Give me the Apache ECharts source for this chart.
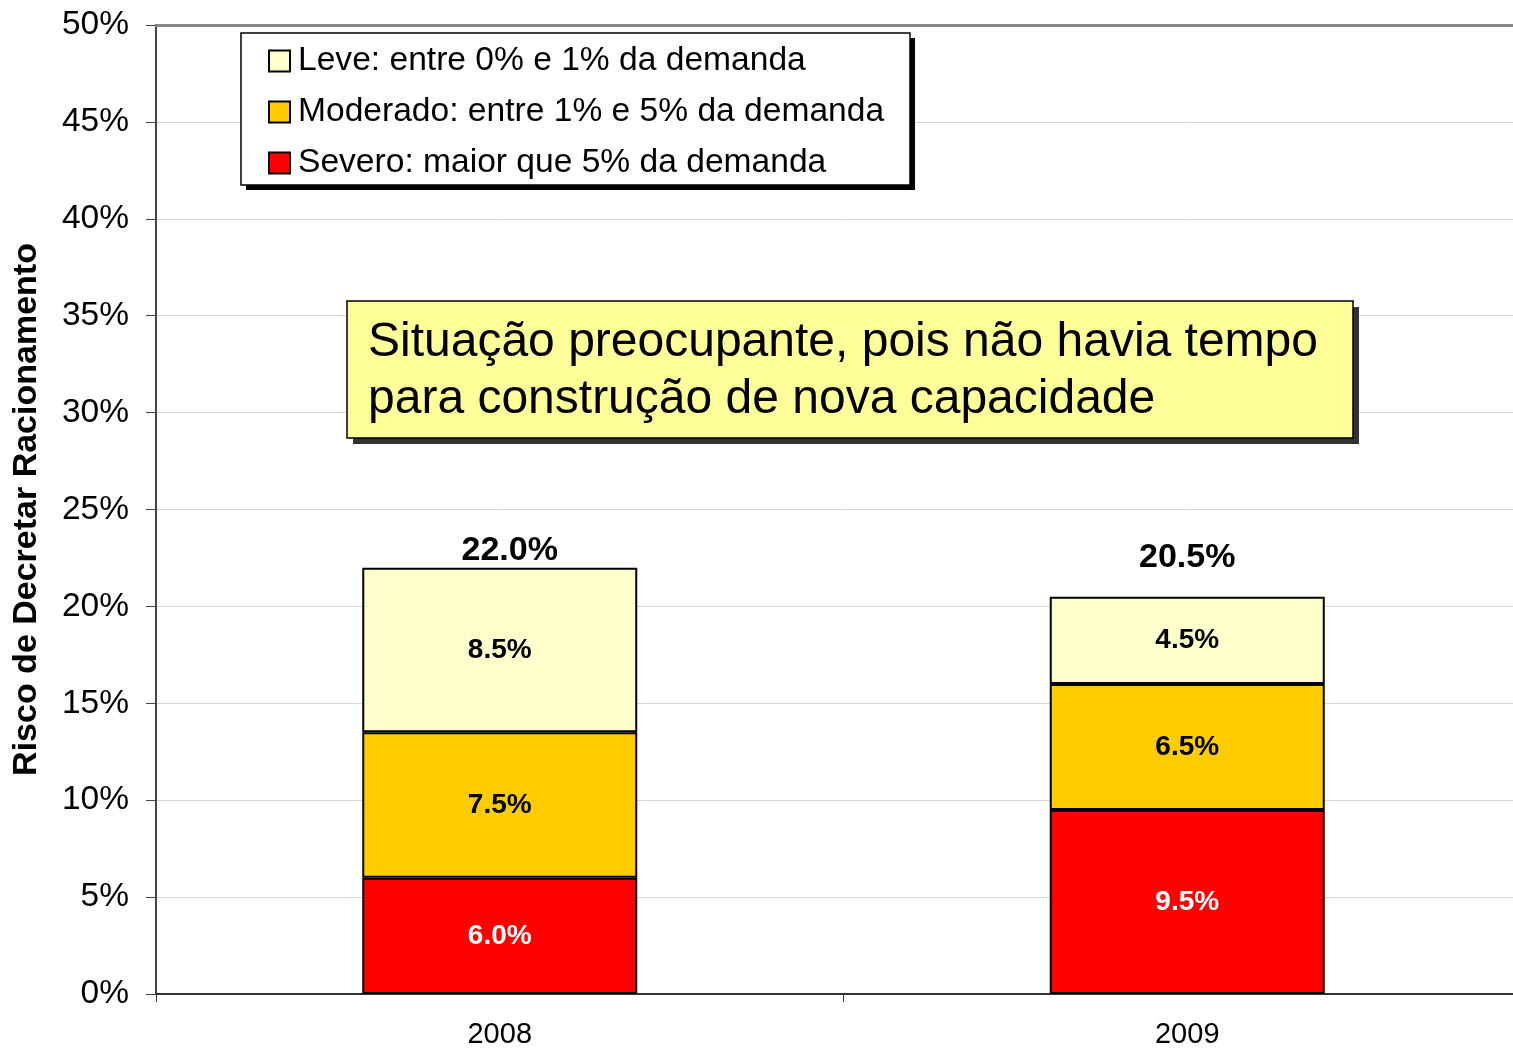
<!DOCTYPE html>
<html>
<head>
<meta charset="utf-8">
<script src="https://cdn.jsdelivr.net/npm/echarts@6/dist/echarts.min.js"></script>
<style>
 html,body{margin:0;padding:0;background:#fff;overflow:hidden;}
 /* a area do grafico passa um pouco da borda direita da imagem */
 #chart{width:1531px;height:1049px;}
</style>
</head>
<body>
<div id="chart"></div>
<script>
// dados
var anos = ['2008', '2009'];
var severo = [6.0, 9.5];
var moderado = [7.5, 6.5];
var leve = [8.5, 4.5];
var totais = [22.0, 20.5];
var nomes = ['Leve: entre 0% e 1% da demanda', 'Moderado: entre 1% e 5% da demanda', 'Severo: maior que 5% da demanda'];
var nota = 'Situação preocupante, pois não havia tempo\npara construção de nova capacidade';

var FONTE = 'Liberation Sans, Arial, sans-serif';

var myChart = echarts.init(document.getElementById('chart'));

function rotulo(cor){
  return {
    show: true,
    position: 'inside',
    color: cor,
    fontFamily: FONTE,
    fontWeight: 'bold',
    fontSize: 28,
    formatter: function(p){ return p.value.toFixed(1) + '%'; }
  };
}

var barra = {borderColor: '#000', borderWidth: 2};

var option = {
  animation: false,
  backgroundColor: '#fff',
  grid: {left: 156, top: 25, bottom: 54, right: 0},
  legend: {
    orient: 'vertical',
    left: 268,
    top: 44,
    padding: 0,
    itemWidth: 21,
    itemHeight: 21,
    itemGap: 17,
    icon: 'rect',
    data: nomes,
    textStyle: {fontFamily: FONTE, fontSize: 33.6, color: '#000', lineHeight: 33, padding: [0, 0, 0, 3]}
  },
  xAxis: [{
    type: 'category',
    data: anos,
    axisLine: {lineStyle: {color: '#333', width: 2}},
    axisTick: {show: true, length: 8, lineStyle: {color: '#333'}},
    axisLabel: {fontFamily: FONTE, fontSize: 29, color: '#000', margin: 26},
    splitLine: {show: false}
  }, {
    type: 'category',
    position: 'top',
    data: anos,
    axisLine: {lineStyle: {color: '#888', width: 3}},
    axisTick: {show: false},
    axisLabel: {show: false}
  }],
  yAxis: {
    type: 'value',
    min: 0,
    max: 50,
    interval: 5,
    name: 'Risco de Decretar Racionamento',
    nameLocation: 'middle',
    nameGap: 112,
    nameTextStyle: {fontFamily: FONTE, fontWeight: 'bold', fontSize: 34, color: '#000'},
    axisLine: {show: true, lineStyle: {color: '#444', width: 2}},
    axisTick: {show: true, length: 10, lineStyle: {color: '#444'}},
    axisLabel: {fontFamily: FONTE, fontSize: 33.5, color: '#000', margin: 27, formatter: '{value}%'},
    splitLine: {lineStyle: {color: '#d4d4d4', width: 1}}
  },
  series: [
    {
      name: nomes[2], type: 'bar', stack: 'risco', barWidth: 275,
      itemStyle: Object.assign({color: '#ff0000'}, barra),
      label: rotulo('#fff'),
      data: severo
    },
    {
      name: nomes[1], type: 'bar', stack: 'risco', barWidth: 275,
      itemStyle: Object.assign({color: '#ffcc00'}, barra),
      label: rotulo('#000'),
      data: moderado
    },
    {
      name: nomes[0], type: 'bar', stack: 'risco', barWidth: 275,
      itemStyle: Object.assign({color: '#ffffcc'}, barra),
      label: rotulo('#000'),
      data: leve
    },
    {
      name: 'total', type: 'scatter', symbolSize: 0, silent: true,
      itemStyle: {opacity: 1},
      label: {
        show: true, position: 'top',
        fontFamily: FONTE, fontWeight: 'bold', fontSize: 34, color: '#000',
        formatter: function(p){ return p.value.toFixed(1) + '%'; }
      },
      data: [
        {value: totais[0], label: {distance: 0, offset: [10, 0]}},
        {value: totais[1], label: {distance: 22}}
      ]
    }
  ],
  graphic: [
    // caixa da legenda
    {type: 'rect', z: 1, shape: {x: 246, y: 38, width: 669, height: 152}, style: {fill: '#000'}},
    {type: 'rect', z: 2, shape: {x: 241, y: 33, width: 669, height: 152}, style: {fill: '#fff', stroke: '#000', lineWidth: 1.5}},
    // nota amarela
    {type: 'rect', z: 100, shape: {x: 353, y: 307, width: 1006, height: 137}, style: {fill: '#333'}},
    {type: 'rect', z: 101, shape: {x: 347, y: 301, width: 1006, height: 137}, style: {fill: '#ffff99', stroke: '#000', lineWidth: 1.5}},
    {type: 'text', z: 102, left: 368, top: 314, style: {text: nota, fontFamily: FONTE, fontSize: 48, lineHeight: 57, fill: '#000'}}
  ]
};

myChart.setOption(option);
</script>
</body>
</html>
